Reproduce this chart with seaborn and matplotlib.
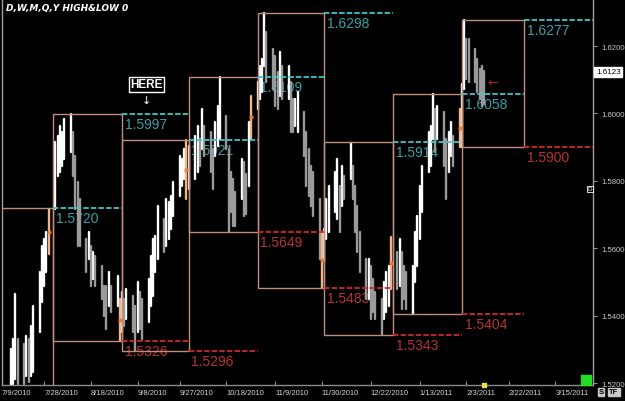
import numpy as np
import pandas as pd
import seaborn as sns
import matplotlib.pyplot as plt
import matplotlib.dates as mdates
from matplotlib.patches import Rectangle
from matplotlib.transforms import blended_transform_factory

# daily bars (weekdays) 13 Jul 2010 - 11 Feb 2011
bar_dates = pd.bdate_range('2010-07-13', '2011-02-11')
highs = [
    # Jul
    1.5301, 1.5331, 1.5464, 1.5331, 1.5316, 1.5340, 1.5331, 1.5369, 1.5429, 1.5529, 1.5607, 1.5627, 1.5648, 1.5716,
    # Aug
    1.5915, 1.5933, 1.5963, 1.5945, 1.5983, 1.5998, 1.5945, 1.5874, 1.5796, 1.5746, 1.5627, 1.5648, 1.5607, 1.5589,
    1.5577, 1.5547, 1.5488, 1.5488, 1.5529, 1.5488, 1.5518, 1.5449,
    # Sep
    1.5470, 1.5449, 1.5479, 1.5458, 1.5429, 1.5500, 1.5470, 1.5449, 1.5509, 1.5577, 1.5627, 1.5636, 1.5725, 1.5687,
    1.5746, 1.5737, 1.5755, 1.5796, 1.5874, 1.5865, 1.5894, 1.5921,
    # Oct
    1.5903, 1.5933, 1.5963, 1.5924, 1.6013, 1.5963, 1.5945, 1.5894, 1.5974, 1.6022, 1.6108, 1.5992, 1.5894, 1.5826,
    1.5805, 1.5767, 1.5865, 1.5856, 1.5820, 1.5974, 1.6052,
    # Nov
    1.6093, 1.6141, 1.6161, 1.6298, 1.6242, 1.6191, 1.6170, 1.6123, 1.6182, 1.6141, 1.6141, 1.6093, 1.6043, 1.6043,
    1.6064, 1.6004, 1.5945, 1.5894, 1.5844, 1.5826, 1.5746, 1.5648,
    # Dec
    1.5657, 1.5746, 1.5785, 1.5826, 1.5865, 1.5785, 1.5844, 1.5814, 1.5912, 1.5844, 1.5785, 1.5725, 1.5648, 1.5568,
    1.5568, 1.5547, 1.5509, 1.5470, 1.5449, 1.5500, 1.5529, 1.5547, 1.5633,
    # Jan
    1.5589, 1.5627, 1.5589, 1.5547, 1.5529, 1.5547, 1.5648, 1.5696, 1.5785, 1.5844, 1.5945, 1.5963, 1.6058, 1.6013,
    1.6022, 1.6004, 1.5924, 1.5945, 1.5974, 1.5933, 1.6013,
    # Feb
    1.6087, 1.6277, 1.6221, 1.6221, 1.6191, 1.6161, 1.6132, 1.6141, 1.6126,
]
lows = [
    1.5182, 1.5197, 1.5212, 1.5197, 1.5197, 1.5221, 1.5203, 1.5221, 1.5233, 1.5351, 1.5440, 1.5488, 1.5529, 1.5583,
    1.5716, 1.5814, 1.5826, 1.5844, 1.5865, 1.5885, 1.5814, 1.5716, 1.5607, 1.5607, 1.5529, 1.5568, 1.5488, 1.5509,
    1.5488, 1.5449, 1.5399, 1.5360, 1.5429, 1.5411, 1.5429, 1.5326,
    1.5351, 1.5369, 1.5390, 1.5351, 1.5295, 1.5351, 1.5360, 1.5331, 1.5381, 1.5429, 1.5458, 1.5529, 1.5568, 1.5589,
    1.5607, 1.5627, 1.5657, 1.5696, 1.5755, 1.5785, 1.5805, 1.5746,
    1.5776, 1.5805, 1.5826, 1.5844, 1.5894, 1.5874, 1.5826, 1.5776, 1.5874, 1.5903, 1.5924, 1.5894, 1.5648, 1.5707,
    1.5666, 1.5666, 1.5746, 1.5696, 1.5702, 1.5785, 1.5924,
    1.6013, 1.6043, 1.6064, 1.6141, 1.6093, 1.6072, 1.6022, 1.6013, 1.6052, 1.6043, 1.6043, 1.5945, 1.5945, 1.5963,
    1.5945, 1.5874, 1.5785, 1.5755, 1.5725, 1.5696, 1.5568, 1.5482,
    1.5562, 1.5627, 1.5648, 1.5707, 1.5687, 1.5648, 1.5725, 1.5746, 1.5805, 1.5746, 1.5648, 1.5589, 1.5529, 1.5449,
    1.5449, 1.5390, 1.5411, 1.5390, 1.5343, 1.5390, 1.5411, 1.5429, 1.5479,
    1.5479, 1.5488, 1.5420, 1.5449, 1.5420, 1.5405, 1.5500, 1.5547, 1.5627, 1.5707, 1.5826, 1.5844, 1.5924, 1.5885,
    1.5924, 1.5844, 1.5746, 1.5826, 1.5874, 1.5844, 1.5900,
    1.5900, 1.6072, 1.6102, 1.6093, 1.6093, 1.6064, 1.6043, 1.6022, 1.6028,
]
last_price = 1.6123

# monthly high / low boxes (Jul 2010 .. Feb 2011)
month_starts = pd.to_datetime(['2010-07-01', '2010-08-01', '2010-09-01', '2010-10-01', '2010-11-01',
                               '2010-12-01', '2011-01-01', '2011-02-01', '2011-03-01', '2011-04-01'])
month_high = [1.5720, 1.5997, 1.5921, 1.6109, 1.6298, 1.5914, 1.6058, 1.6277]
month_low = [1.5130, 1.5326, 1.5296, 1.5649, 1.5483, 1.5343, 1.5404, 1.5900]

tick_dates = pd.to_datetime(['2010-07-09', '2010-07-28', '2010-08-18', '2010-09-08', '2010-09-27', '2010-10-18',
                             '2010-11-09', '2010-11-30', '2010-12-22', '2011-01-13', '2011-02-03', '2011-02-22',
                             '2011-03-15'])
tick_labels = ['7/9/2010', '7/28/2010', '8/18/2010', '9/8/2010', '9/27/2010', '10/18/2010', '11/9/2010',
               '11/30/2010', '12/22/2010', '1/13/2011', '2/3/2011', '2/22/2011', '3/15/2011']
price_ticks = [1.52, 1.54, 1.56, 1.58, 1.60, 1.62]
y_lo, y_hi = 1.51941, 1.63395

sns.set_style('dark', {'axes.facecolor': 'black', 'figure.facecolor': 'black'})
plt.rcParams['font.family'] = ['Liberation Sans', 'DejaVu Sans']

BOX = '#c08d7b'
CYAN = '#3cc8c8'
CYAN_TXT = '#3a9fa6'
RED = '#d02828'
RED_TXT = '#b83232'

df = pd.DataFrame({'date': bar_dates, 'high': highs, 'low': lows})
mid = (df['high'] + df['low']) / 2
df['kind'] = np.where(mid.diff().fillna(0) >= 0, 'up', 'down')
nxt = df['date'].shift(-1)
month_end = (nxt.dt.month != df['date'].dt.month) & nxt.notna()
df.loc[month_end, 'kind'] = 'end'
df['bar'] = range(len(df))
long = df.melt(id_vars=['date', 'bar', 'kind'], value_vars=['high', 'low'], value_name='price')

fig = plt.figure(figsize=(6.25, 4.02), dpi=100)
ax = fig.add_axes([2 / 625, 16 / 402, 591 / 625, 386 / 402])

sns.lineplot(data=long, x='date', y='price', units='bar', estimator=None, hue='kind',
             palette={'up': '#ffffff', 'down': '#9a9a9a', 'end': '#f2b48a'},
             linewidth=1.7, legend=False, sort=False, ax=ax)
ends = df[df['kind'] == 'end']
sns.scatterplot(x=ends['date'], y=(ends['high'] + ends['low']) / 2, color='#f07840', s=9,
                linewidth=0, ax=ax, zorder=5)

# month boxes and previous-month projections (labels sit under the bars)
n = len(month_high)
for i in range(n):
    x0 = mdates.date2num(month_starts[i])
    x1 = mdates.date2num(month_starts[i + 1])
    ax.add_patch(Rectangle((x0, month_low[i]), x1 - x0, month_high[i] - month_low[i],
                           fill=False, edgecolor=BOX, lw=1.0, zorder=3))
    p0 = month_starts[i + 1]
    p1 = month_starts[i + 2]
    tx = p0 + pd.Timedelta(days=1.2)
    for val, lc, tc in [(month_high[i], CYAN, CYAN_TXT), (month_low[i], RED, RED_TXT)]:
        ax.hlines(val, p0, p1, colors=lc, linestyles=(0, (3, 1.2)), lw=1.3, zorder=4)
        if val > y_lo + 0.002:
            ax.text(tx, val - 0.0009, f'{val:.4f}', color=tc, fontsize=10,
                    va='top', ha='left', zorder=1, clip_on=True)

ax.set_xlim(pd.Timestamp('2010-07-09'), pd.Timestamp('2011-04-01'))
ax.set_ylim(y_lo, y_hi)

ax.set_xticks(tick_dates)
ax.set_xticklabels(tick_labels, ha='left', fontsize=5.5, color='#d4d4d4')
ax.tick_params(axis='x', direction='in', length=3, color='#909090', pad=3, bottom=True)
ax.yaxis.tick_right()
ax.set_yticks(price_ticks)
ax.set_yticklabels([f'{p:.4f}' for p in price_ticks], fontsize=5.6, color='#c8c8c8')
ax.tick_params(axis='y', direction='out', length=3, color='#909090', pad=3, right=True)
ax.set_xlabel('')
ax.set_ylabel('')
ax.grid(False)
for side, col in [('left', '#a89a9a'), ('right', '#a0a0a0'), ('bottom', '#8a8a8a')]:
    ax.spines[side].set_visible(True)
    ax.spines[side].set_color(col)
    ax.spines[side].set_linewidth(1.0)
ax.spines['top'].set_visible(False)

yb = blended_transform_factory(ax.transAxes, ax.transData)
ax.text(1.005, last_price, f'{last_price:.4f}', transform=yb, fontsize=5.8, color='black',
        va='center', ha='left', bbox=dict(boxstyle='square,pad=0.2', fc='white', ec='white'))

# current bar marker on the time axis, corner marker
ax.scatter([bar_dates[-1]], [y_lo], marker='s', s=10, color='#e8e040', clip_on=False, zorder=7)
ax.scatter([pd.Timestamp('2011-03-29')], [1.5208], marker='s', s=45, color='#22dd22', clip_on=False, zorder=7)

# annotations
ax.text(pd.Timestamp('2010-09-12'), 1.6087, 'HERE', color='white', fontsize=8.5, fontweight='bold',
        ha='center', va='center',
        bbox=dict(boxstyle='square,pad=0.12', fc='black', ec='white', lw=1))
ax.text(pd.Timestamp('2010-09-12'), 1.6040, '\u2193', color='white', fontsize=8, ha='center', va='center',
        family=['DejaVu Sans'])
ax.text(pd.Timestamp('2011-02-15'), 1.6092, '\u2190', color='#b02020', fontsize=9, ha='center', va='center',
        family=['DejaVu Sans'])

fig.text(6 / 625, 1 - 8 / 402, 'D,W,M,Q,Y HIGH&LOW 0', color='white', fontsize=6.5, fontstyle='italic',
         fontweight='bold', family=['DejaVu Sans'], va='center', ha='left')
fig.text(590 / 625, 1 - 190 / 402, 'D', color='white', fontsize=4.5, ha='center', va='center',
         bbox=dict(boxstyle='square,pad=0.1', fc='black', ec='white', lw=0.6))
fig.text(601 / 625, 1 - 393 / 402, 'S', color='black', fontsize=5.5, fontweight='bold', ha='center', va='center',
         bbox=dict(boxstyle='square,pad=0.12', fc='#c8c8c8', ec='#c8c8c8'))
fig.text(614 / 625, 1 - 393 / 402, 'TF', color='black', fontsize=5.5, fontweight='bold', ha='center', va='center',
         bbox=dict(boxstyle='square,pad=0.12', fc='#c8c8c8', ec='#c8c8c8'))

fig.savefig('out.png', dpi=100, facecolor='black')
